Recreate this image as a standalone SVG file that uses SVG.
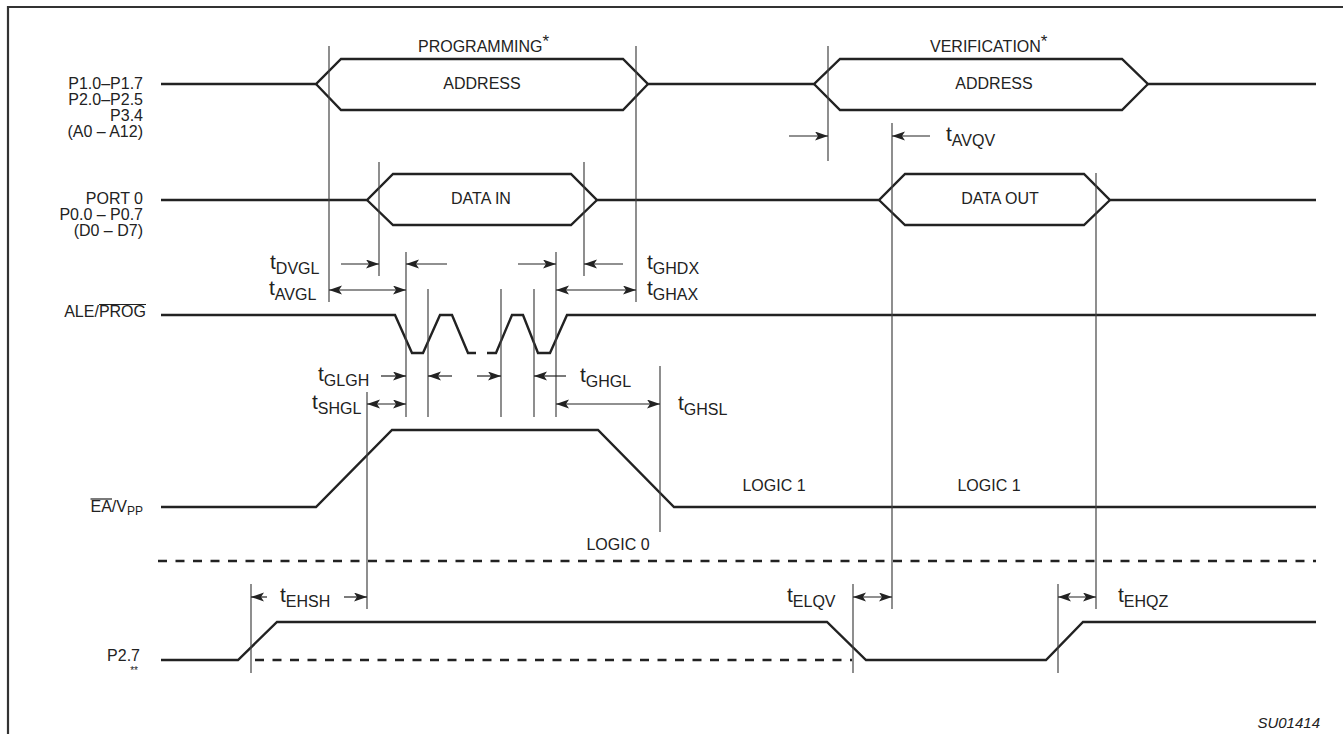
<svg xmlns="http://www.w3.org/2000/svg" width="1343" height="734" viewBox="0 0 1343 734">
<style>
text{font-family:"Liberation Sans",Arial,sans-serif;fill:#222}
.lbl{font-size:16px}
.end{text-anchor:end}
.mid{text-anchor:middle}
.t{font-size:21px}
.s{font-size:16px}
.sig{fill:none;stroke:#222;stroke-width:2.4;stroke-linejoin:miter}
.dash{fill:none;stroke:#222;stroke-width:2.4;stroke-dasharray:9 8.5}
.v{stroke:#444;stroke-width:1.2}
.a{stroke:#222;stroke-width:1.2;fill:none}
.ar{marker-end:url(#ah)}
.dbl{marker-start:url(#ah);marker-end:url(#ah)}
</style>
<defs>
<marker id="ah" markerUnits="userSpaceOnUse" markerWidth="14" markerHeight="10" refX="13" refY="4.5" orient="auto-start-reverse">
<path d="M0,0 L13,4.5 L0,9 L3,4.5 z" fill="#222"/>
</marker>
</defs>
<g id="frame">
<path d="M8,734 L8,7 L1343,7" fill="none" stroke="#333" stroke-width="2.2"/>
</g>
<g id="sig-address">
<text class="lbl end" x="143" y="89">P1.0–P1.7</text>
<text class="lbl end" x="143" y="105">P2.0–P2.5</text>
<text class="lbl end" x="143" y="121">P3.4</text>
<text class="lbl end" x="143" y="137">(A0 – A12)</text>
<path class="sig" d="M161,84 L316,84 L341,59 L623,59 L648,84 L814,84 L840,59 L1122,59 L1148,84 L1316,84"/>
<path class="sig" d="M316,84 L341,110 L623,110 L648,84 M814,84 L840,110 L1122,110 L1148,84"/>
<text class="lbl" x="418" y="52">PROGRAMMING<tspan font-size="17" dy="-5">*</tspan></text>
<text class="lbl" x="930" y="52">VERIFICATION<tspan font-size="17" dy="-5">*</tspan></text>
<text class="lbl mid" x="482" y="89">ADDRESS</text>
<text class="lbl mid" x="994" y="89">ADDRESS</text>
</g>
<g id="sig-port0">
<text class="lbl end" x="143" y="204">PORT 0</text>
<text class="lbl end" x="143" y="220">P0.0 – P0.7</text>
<text class="lbl end" x="143" y="236">(D0 – D7)</text>
<path class="sig" d="M161,200 L367,200 L393,174 L571,174 L597,200 L879,200 L905,174 L1084,174 L1110,200 L1316,200"/>
<path class="sig" d="M367,200 L393,225 L571,225 L597,200 M879,200 L905,225 L1084,225 L1110,200"/>
<text class="lbl mid" x="481" y="204">DATA IN</text>
<text class="lbl mid" x="1000" y="204">DATA OUT</text>
</g>
<g id="sig-ale">
<text class="lbl end" x="146" y="317">ALE/PROG</text>
<line x1="99" y1="304.5" x2="146" y2="304.5" stroke="#222" stroke-width="1.2"/>
<path class="sig" d="M161,315 L395,315 L412,353 L423,353 L440,315 L452,315 L468,353 L476,353"/>
<path class="sig" d="M487,353 L496,353 L512,315 L523,315 L538,353 L550,353 L567,315 L1316,315"/>
</g>
<g id="sig-ea">
<text class="lbl end" x="143" y="512">EA/V<tspan font-size="12" dy="3">PP</tspan></text>
<line x1="90.5" y1="499" x2="112" y2="499" stroke="#222" stroke-width="1.2"/>
<path class="sig" d="M161,507 L316,507 L392,430 L598,430 L674,507 L1316,507"/>
<text class="lbl mid" x="774" y="491">LOGIC 1</text>
<text class="lbl mid" x="989" y="491">LOGIC 1</text>
<text class="lbl mid" x="618" y="550">LOGIC 0</text>
<line class="dash" x1="158" y1="561" x2="1316" y2="561"/>
</g>
<g id="sig-p27">
<text class="lbl end" x="140" y="661">P2.7</text>
<text class="end" x="138" y="674" font-size="10">**</text>
<path class="sig" d="M161,660 L238,660 L277,622 L827,622 L866,660 L1046,660 L1083,622 L1316,622"/>
<line class="dash" x1="255" y1="660" x2="852" y2="660"/>
</g>
<g id="connectors">
<line class="v" x1="329" y1="46" x2="329" y2="302"/>
<line class="v" x1="636" y1="46" x2="636" y2="302"/>
<line class="v" x1="828" y1="46" x2="828" y2="161"/>
<line class="v" x1="892" y1="123" x2="892" y2="609"/>
<line class="v" x1="379" y1="162" x2="379" y2="276"/>
<line class="v" x1="584" y1="162" x2="584" y2="276"/>
<line class="v" x1="1096" y1="173" x2="1096" y2="609"/>
<line class="v" x1="406" y1="252" x2="406" y2="417"/>
<line class="v" x1="556" y1="252" x2="556" y2="417"/>
<line class="v" x1="428" y1="289" x2="428" y2="417"/>
<line class="v" x1="501" y1="289" x2="501" y2="417"/>
<line class="v" x1="534" y1="289" x2="534" y2="417"/>
<line class="v" x1="367" y1="392" x2="367" y2="609"/>
<line class="v" x1="660" y1="366" x2="660" y2="532"/>
<line class="v" x1="251" y1="584" x2="251" y2="673"/>
<line class="v" x1="853" y1="584" x2="853" y2="673"/>
<line class="v" x1="1058" y1="584" x2="1058" y2="673"/>
<line class="a ar" x1="789" y1="136" x2="828" y2="136"/>
<line class="a ar" x1="930" y1="136" x2="892" y2="136"/>
<line class="a ar" x1="341" y1="264" x2="379" y2="264"/>
<line class="a ar" x1="447" y1="264" x2="406" y2="264"/>
<line class="a ar" x1="518" y1="264" x2="556" y2="264"/>
<line class="a ar" x1="623" y1="264" x2="584" y2="264"/>
<line class="a dbl" x1="329" y1="290" x2="406" y2="290"/>
<line class="a dbl" x1="556" y1="290" x2="636" y2="290"/>
<line class="a ar" x1="381" y1="376" x2="406" y2="376"/>
<line class="a ar" x1="452" y1="376" x2="428" y2="376"/>
<line class="a ar" x1="477" y1="376" x2="501" y2="376"/>
<line class="a ar" x1="566" y1="376" x2="534" y2="376"/>
<line class="a dbl" x1="367" y1="404" x2="406" y2="404"/>
<line class="a dbl" x1="556" y1="404" x2="660" y2="404"/>
<line class="a ar" x1="267" y1="597" x2="251" y2="597"/>
<line class="a ar" x1="344" y1="597" x2="367" y2="597"/>
<line class="a dbl" x1="853" y1="597" x2="892" y2="597"/>
<line class="a dbl" x1="1058" y1="597" x2="1096" y2="597"/>
</g>
<g id="timing-labels">
<text x="946" y="141"><tspan class="t">t</tspan><tspan class="s" dy="5">AVQV</tspan></text>
<text x="270" y="269"><tspan class="t">t</tspan><tspan class="s" dy="5">DVGL</tspan></text>
<text x="269" y="295"><tspan class="t">t</tspan><tspan class="s" dy="5">AVGL</tspan></text>
<text x="647" y="269"><tspan class="t">t</tspan><tspan class="s" dy="5">GHDX</tspan></text>
<text x="647" y="295"><tspan class="t">t</tspan><tspan class="s" dy="5">GHAX</tspan></text>
<text x="318" y="381"><tspan class="t">t</tspan><tspan class="s" dy="5">GLGH</tspan></text>
<text x="312" y="409"><tspan class="t">t</tspan><tspan class="s" dy="5">SHGL</tspan></text>
<text x="580" y="382"><tspan class="t">t</tspan><tspan class="s" dy="5">GHGL</tspan></text>
<text x="678" y="410"><tspan class="t">t</tspan><tspan class="s" dy="5">GHSL</tspan></text>
<text x="280" y="602"><tspan class="t">t</tspan><tspan class="s" dy="5">EHSH</tspan></text>
<text x="787" y="602"><tspan class="t">t</tspan><tspan class="s" dy="5">ELQV</tspan></text>
<text x="1118" y="602"><tspan class="t">t</tspan><tspan class="s" dy="5">EHQZ</tspan></text>
</g>
<text x="1320" y="728" font-size="15" font-style="italic" text-anchor="end">SU01414</text>
</svg>
